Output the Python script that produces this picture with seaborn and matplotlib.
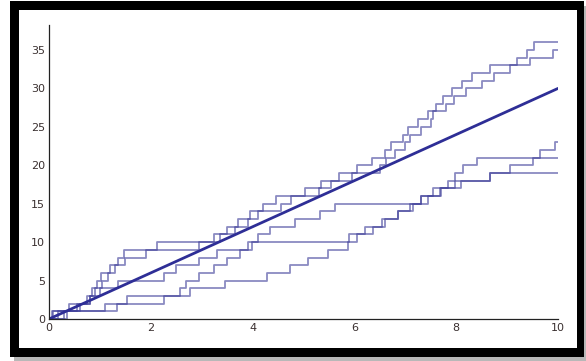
import numpy as np
import pandas as pd
import matplotlib
matplotlib.use("Agg")
import matplotlib.pyplot as plt
import matplotlib.patches as mpatches
from matplotlib.ticker import MultipleLocator
import seaborn as sns

# Jump times of five simulated Poisson counting paths (rate 3) on [0, 10]
jumps_a = [0.18, 0.40, 0.75, 0.85, 0.95, 1.02, 1.20, 1.35, 1.48, 2.12, 3.25, 3.50,
           3.72, 3.95, 4.20, 4.45, 5.02, 5.35, 5.70, 6.05, 6.35, 6.60, 6.72, 6.95,
           7.05, 7.25, 7.45, 7.60, 7.75, 7.92, 8.12, 8.32, 8.66, 9.20, 9.40, 9.52]
jumps_b = [0.30, 0.55, 0.80, 0.90, 1.05, 1.15, 1.30, 1.50, 1.90, 2.95, 3.35, 3.65,
           3.90, 4.10, 4.55, 4.75, 5.30, 5.55, 5.95, 6.50, 6.62, 6.80, 7.00, 7.10,
           7.30, 7.50, 7.55, 7.80, 7.95, 8.20, 8.50, 8.75, 9.05, 9.45, 9.90]
jumps_c = [0.35, 1.10, 1.53, 2.57, 2.70, 2.95, 3.25, 3.50, 3.75, 3.90, 4.10, 4.34,
           4.83, 5.32, 5.62, 7.30, 7.70, 8.10, 8.66, 9.06, 9.50, 9.64, 9.94]
jumps_d = [0.05, 0.60, 0.80, 1.00, 1.35, 2.25, 2.50, 2.95, 3.30, 3.98, 5.90, 6.20,
           6.55, 6.85, 7.10, 7.30, 7.55, 7.84, 7.97, 8.14, 8.40]
jumps_e = [0.08, 1.33, 2.25, 2.77, 3.46, 4.28, 4.73, 5.09, 5.48, 5.88, 6.05, 6.37,
           6.60, 6.86, 7.16, 7.45, 7.68, 7.97, 8.66]

# Expected count 3t
t_mean = [0, 10]
count_mean = [0, 30]

t_end = 10
x_ticks = [0, 2, 4, 6, 8, 10]
y_ticks = [0, 5, 10, 15, 20, 25, 30, 35]

rows = []
for name, jumps in zip("abcde", [jumps_a, jumps_b, jumps_c, jumps_d, jumps_e]):
    times = [0.0] + list(jumps) + [t_end]
    counts = list(range(len(jumps) + 1)) + [len(jumps)]
    for t, n in zip(times, counts):
        rows.append({"path": name, "t": t, "count": n})
paths = pd.DataFrame(rows)
mean_df = pd.DataFrame({"t": t_mean, "count": count_mean})

sns.set_style("white")
plt.rcParams["font.family"] = ["DejaVu Sans"]

W, H = 586, 361
fig = plt.figure(figsize=(W / 100, H / 100), dpi=100)
fig.patch.set_facecolor("white")

def px_rect(x0, y0, x1, y1, **kw):
    return mpatches.Rectangle((x0 / W, 1 - y1 / H), (x1 - x0) / W, (y1 - y0) / H,
                              transform=fig.transFigure, **kw)

# Drop shadow, black frame and white panel behind the plot
fig.patches.append(px_rect(14, 6, 586, 361, facecolor="#b8b8b8", edgecolor="none", zorder=0))
fig.patches.append(px_rect(10, 1, 584, 357, facecolor="black", edgecolor="none", zorder=1))
fig.patches.append(px_rect(19, 10, 577, 348, facecolor="white", edgecolor="none", zorder=2))

ax = fig.add_axes([49 / W, 1 - 319 / H, (558 - 49) / W, (319 - 25) / H])
ax.set_zorder(3)
ax.patch.set_alpha(0)

step_color = "#3d3d99"
sns.lineplot(data=paths, x="t", y="count", units="path", estimator=None,
             drawstyle="steps-post", color=step_color, alpha=0.6, lw=1.3,
             sort=False, ax=ax, legend=False)
sns.lineplot(data=mean_df, x="t", y="count", color="#2e2e96", lw=2.0, ax=ax,
             legend=False)

ax.set_xlim(0, 10)
ax.set_ylim(0, 38.25)
ax.set_xticks(x_ticks)
ax.set_yticks(y_ticks)
ax.xaxis.set_minor_locator(MultipleLocator(0.5))
ax.yaxis.set_minor_locator(MultipleLocator(1))
ax.tick_params(which="major", direction="in", length=4, width=0.9, color="#222222",
               labelsize=8, labelcolor="#3a3030", pad=3)
ax.tick_params(which="minor", direction="in", length=2.2, width=0.8, color="#222222")
ax.set_xlabel("")
ax.set_ylabel("")
for side in ["top", "right"]:
    ax.spines[side].set_visible(False)
for side in ["left", "bottom"]:
    ax.spines[side].set_color("#222222")
    ax.spines[side].set_linewidth(0.9)

fig.savefig("out.png", dpi=100)
